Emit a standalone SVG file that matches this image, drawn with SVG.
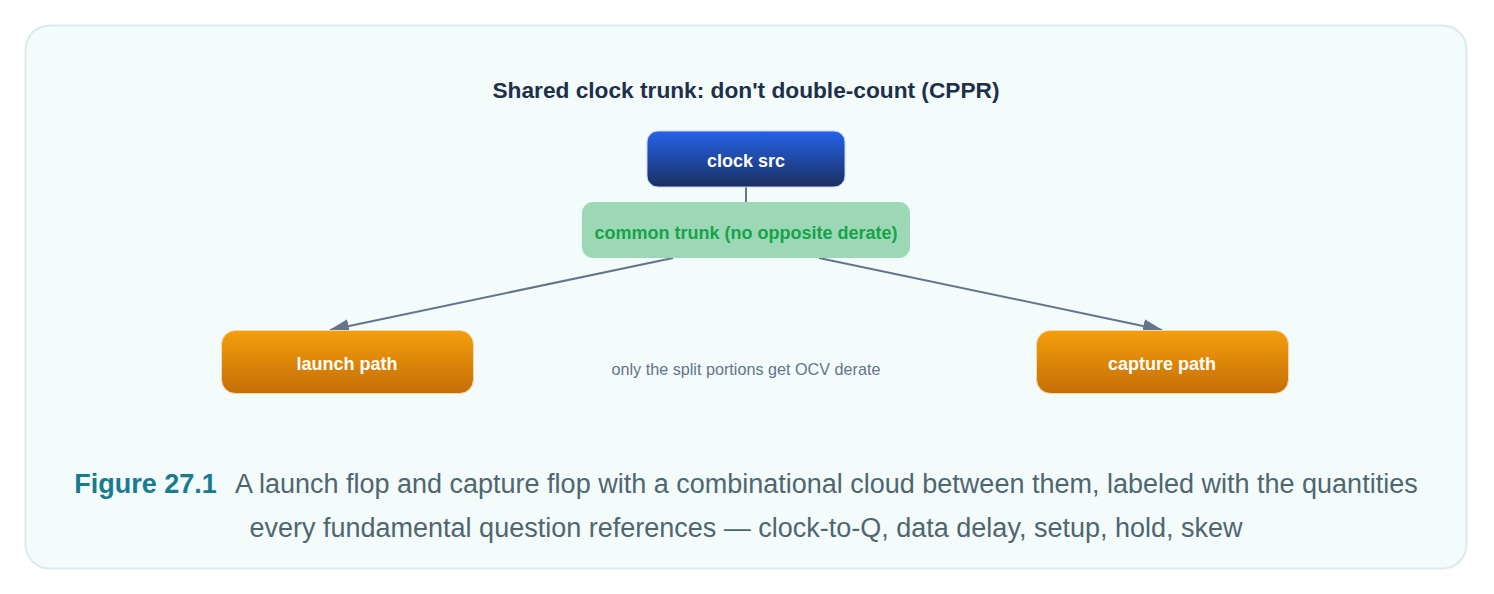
<svg xmlns="http://www.w3.org/2000/svg" width="1494" height="594" viewBox="0 0 1494 594">
<defs>
<linearGradient id="gBlue" x1="0" y1="0" x2="0" y2="1">
<stop offset="0" stop-color="#2563eb"/>
<stop offset="1" stop-color="#1a2f5e"/>
</linearGradient>
<linearGradient id="gOrange" x1="0" y1="0" x2="0" y2="1">
<stop offset="0" stop-color="#f59e0b"/>
<stop offset="1" stop-color="#c46e08"/>
</linearGradient>
<marker id="ah" viewBox="0 0 20 14" refX="19" refY="7" markerWidth="20" markerHeight="14" markerUnits="userSpaceOnUse" orient="auto">
<path d="M0,0 L20,7 L0,14 z" fill="#64748b"/>
</marker>
<style>
.lbl{font-family:"Liberation Sans",Arial,sans-serif;font-weight:bold;font-size:18px;fill:#ffffff;text-anchor:middle}
.conn{stroke:#64748b;stroke-width:2;fill:none}
.cap{font-family:"Liberation Sans",Arial,sans-serif;font-size:27px;fill:#4f6670;text-anchor:middle}
</style>
</defs>
<rect x="0" y="0" width="1494" height="594" fill="#ffffff"/>
<rect x="25.5" y="25.5" width="1441" height="543" rx="24" fill="#f3fbfb" stroke="#dbeaee" stroke-width="2"/>
<text x="746" y="98" font-family="Liberation Sans, Arial, sans-serif" font-weight="bold" font-size="22.7" fill="#1e2f4a" text-anchor="middle">Shared clock trunk: don't double-count (CPPR)</text>
<g id="connectors">
<line class="conn" x1="746" y1="187" x2="746" y2="202"/>
<line class="conn" x1="673" y1="258" x2="330" y2="330" marker-end="url(#ah)"/>
<line class="conn" x1="819" y1="258" x2="1162" y2="330" marker-end="url(#ah)"/>
</g>
<g id="clock-src">
<rect x="647" y="131" width="198" height="56" rx="11" fill="url(#gBlue)" stroke="#c7d2fe" stroke-width="1"/>
<text class="lbl" x="746" y="167">clock src</text>
</g>
<g id="common-trunk">
<rect x="582" y="202" width="328" height="56" rx="11" fill="#9dd8b6"/>
<text x="746" y="239" font-family="Liberation Sans, Arial, sans-serif" font-weight="bold" font-size="18" fill="#16a34a" text-anchor="middle">common trunk (no opposite derate)</text>
</g>
<g id="launch-path">
<rect x="221.5" y="330.5" width="252" height="63" rx="14" fill="url(#gOrange)" stroke="#f3d7b0" stroke-width="1"/>
<text class="lbl" x="347" y="370">launch path</text>
</g>
<g id="capture-path">
<rect x="1036.5" y="330.5" width="252" height="63" rx="14" fill="url(#gOrange)" stroke="#f3d7b0" stroke-width="1"/>
<text class="lbl" x="1162" y="370">capture path</text>
</g>
<text x="746" y="375" font-family="Liberation Sans, Arial, sans-serif" font-size="16.2" fill="#64748b" text-anchor="middle">only the split portions get OCV derate</text>
<text class="cap" x="746" y="493"><tspan font-weight="bold" fill="#1a7a90">Figure 27.1</tspan><tspan dx="18">A launch flop and capture flop with a combinational cloud between them, labeled with the quantities</tspan></text>
<text class="cap" x="746" y="537">every fundamental question references — clock-to-Q, data delay, setup, hold, skew</text>
</svg>
